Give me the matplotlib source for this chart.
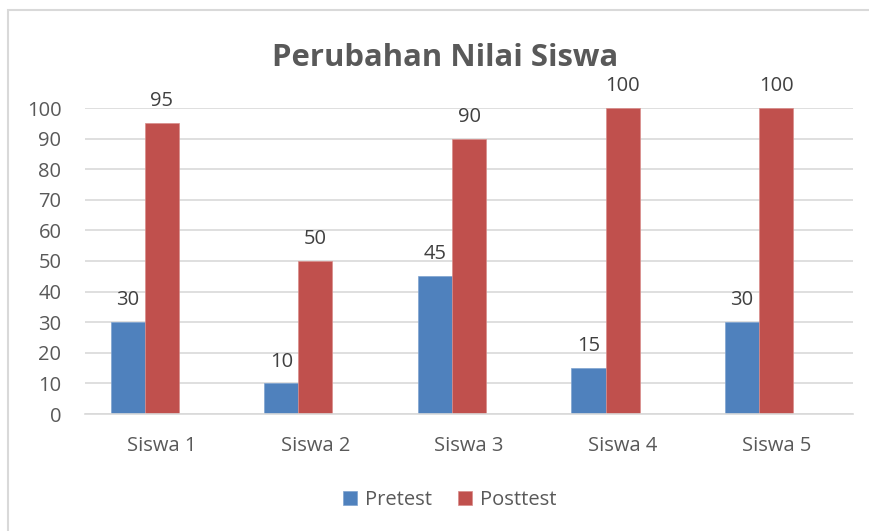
import numpy as np
import matplotlib.pyplot as plt
from matplotlib.patches import Rectangle

plt.rcParams['font.family'] = ['Open Sans', 'DejaVu Sans']

# Data
students = ["Siswa 1", "Siswa 2", "Siswa 3", "Siswa 4", "Siswa 5"]
pretest = [30, 10, 45, 15, 30]
posttest = [95, 50, 90, 100, 100]

blue = "#4F81BD"
red = "#C0504D"
grey_text = "#595959"
grid_col = "#D9D9D9"

fig = plt.figure(figsize=(8.69, 5.31), dpi=100)

# chart border (cropped on right and bottom like the screenshot)
fig.patches.append(Rectangle((8 / 869, -0.1), 1.0, 1 - 10 / 531 + 0.1,
                             transform=fig.transFigure, fill=False,
                             edgecolor=grid_col, linewidth=1.5))

ax = fig.add_axes([85 / 869, 1 - 414 / 531, (853 - 85) / 869, (414 - 108) / 531])

x = np.arange(len(students))
w = 1 / 4.5  # Excel clustered bars: 3 series slots, gap width 150%

b1 = ax.bar(x - w, pretest, w, color=blue, edgecolor="#7FA3D0", linewidth=0.5, label="Pretest")
b2 = ax.bar(x, posttest, w, color=red, edgecolor="#D98C8A", linewidth=0.5, label="Posttest")

for bars, vals in [(b1, pretest), (b2, posttest)]:
    for rect, v in zip(bars, vals):
        ax.annotate(str(v), (rect.get_x() + rect.get_width() / 2, v),
                    xytext=(0, 8.5), textcoords="offset points",
                    ha="center", va="bottom", fontsize=14.5,
                    color="#404040", clip_on=False)

ax.set_xlim(-0.5, len(students) - 0.5)
ax.set_ylim(0, 100)
ax.set_yticks(range(0, 101, 10))
ax.set_xticks(x)
ax.set_xticklabels(students)
ax.tick_params(axis="both", length=0, labelsize=14.5, labelcolor=grey_text)
ax.tick_params(axis="y", pad=17)
ax.tick_params(axis="x", pad=16)

ax.grid(axis="y", color=grid_col, linewidth=1.2)
ax.set_axisbelow(True)
for s in ["top", "right", "left"]:
    ax.spines[s].set_visible(False)
ax.spines["bottom"].set_color(grid_col)
ax.spines["bottom"].set_linewidth(1.2)

fig.text(445 / 869, 1 - 58 / 531, "Perubahan Nilai Siswa", ha="center", va="center",
         fontsize=22.4, fontweight="bold", color=grey_text)

fig.legend(handles=[b1, b2], loc="center", bbox_to_anchor=(450 / 869, 1 - 500 / 531),
           ncol=2, frameon=False, fontsize=14.5, labelcolor=grey_text,
           handlelength=0.7, handleheight=0.7, handletextpad=0.4, columnspacing=1.3)

plt.savefig("out.png", dpi=100)
